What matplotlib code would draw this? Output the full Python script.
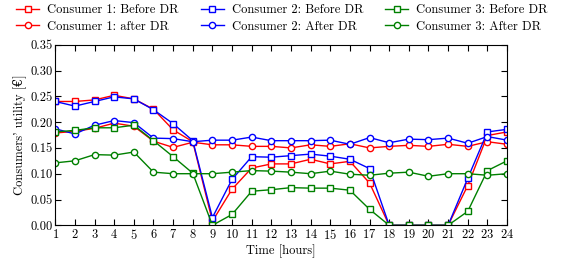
import matplotlib
matplotlib.use("Agg")
import matplotlib.pyplot as plt

hours = list(range(1, 25))

c1_before = [0.240, 0.240, 0.243, 0.252, 0.245, 0.225, 0.185, 0.162, 0.008, 0.070, 0.111, 0.119,
             0.119, 0.128, 0.119, 0.124, 0.082, 0.0, 0.0, 0.0, 0.0, 0.077, 0.174, 0.181]
c1_after = [0.179, 0.182, 0.188, 0.198, 0.192, 0.163, 0.151, 0.161, 0.156, 0.156, 0.153, 0.153,
            0.150, 0.156, 0.153, 0.158, 0.150, 0.153, 0.155, 0.153, 0.157, 0.153, 0.162, 0.157]
c2_before = [0.240, 0.231, 0.240, 0.249, 0.245, 0.224, 0.197, 0.164, 0.015, 0.089, 0.133, 0.132,
             0.135, 0.138, 0.134, 0.128, 0.110, 0.0, 0.0, 0.0, 0.0, 0.091, 0.181, 0.186]
c2_after = [0.187, 0.177, 0.194, 0.203, 0.199, 0.169, 0.168, 0.162, 0.165, 0.165, 0.171, 0.164,
            0.164, 0.164, 0.165, 0.157, 0.170, 0.160, 0.167, 0.166, 0.169, 0.159, 0.172, 0.165]
c3_before = [0.181, 0.184, 0.189, 0.189, 0.194, 0.164, 0.133, 0.101, 0.0, 0.021, 0.066, 0.069,
             0.073, 0.072, 0.072, 0.068, 0.031, 0.0, 0.0, 0.0, 0.0, 0.027, 0.106, 0.125]
c3_after = [0.121, 0.125, 0.137, 0.136, 0.142, 0.103, 0.100, 0.100, 0.100, 0.103, 0.106, 0.105,
            0.103, 0.100, 0.105, 0.099, 0.097, 0.101, 0.103, 0.095, 0.100, 0.100, 0.097, 0.100]

series = [
    ("Consumer 1: Before DR", c1_before, "red", "s"),
    ("Consumer 1: after DR", c1_after, "red", "o"),
    ("Consumer 2: Before DR", c2_before, "blue", "s"),
    ("Consumer 2: After DR", c2_after, "blue", "o"),
    ("Consumer 3: Before DR", c3_before, "green", "s"),
    ("Consumer 3: After DR", c3_after, "green", "o"),
]

plt.rcParams['font.family'] = ['cmr10', 'DejaVu Serif']
plt.rcParams['mathtext.fontset'] = 'cm'
plt.rcParams['axes.formatter.use_mathtext'] = True
plt.rcParams['axes.unicode_minus'] = False

fig = plt.figure(figsize=(5.64, 2.64), dpi=100)
ax = fig.add_axes([0.098, 0.1466, 0.801, 0.684])

for label, vals, color, marker in series:
    ax.plot(hours, vals, color=color, marker=marker, markersize=4.5, markerfacecolor='white',
            markeredgecolor=color, markeredgewidth=1.0, linewidth=1.0, label=label)

ax.set_xlim(1, 24)
ax.set_ylim(0, 0.35)
ax.set_xticks(hours)
ax.set_yticks([0.0, 0.05, 0.10, 0.15, 0.20, 0.25, 0.30, 0.35])
ax.set_yticklabels(["0.00", "0.05", "0.10", "0.15", "0.20", "0.25", "0.30", "0.35"])
ax.tick_params(direction='in', top=True, right=True, labelsize=9, length=4, pad=2)
ax.set_xlabel("Time [hours]", fontsize=9, labelpad=2)
ax.set_ylabel("Consumers' utility [€]", fontsize=9, labelpad=3)

fig.legend(loc='upper center', bbox_to_anchor=(0.5, 0.985), ncol=3, frameon=False,
           fontsize=9, handlelength=1.85, columnspacing=1.75, handletextpad=0.65,
           labelspacing=0.36, borderaxespad=0.0, borderpad=0.0)

fig.savefig("out.png", dpi=100)
